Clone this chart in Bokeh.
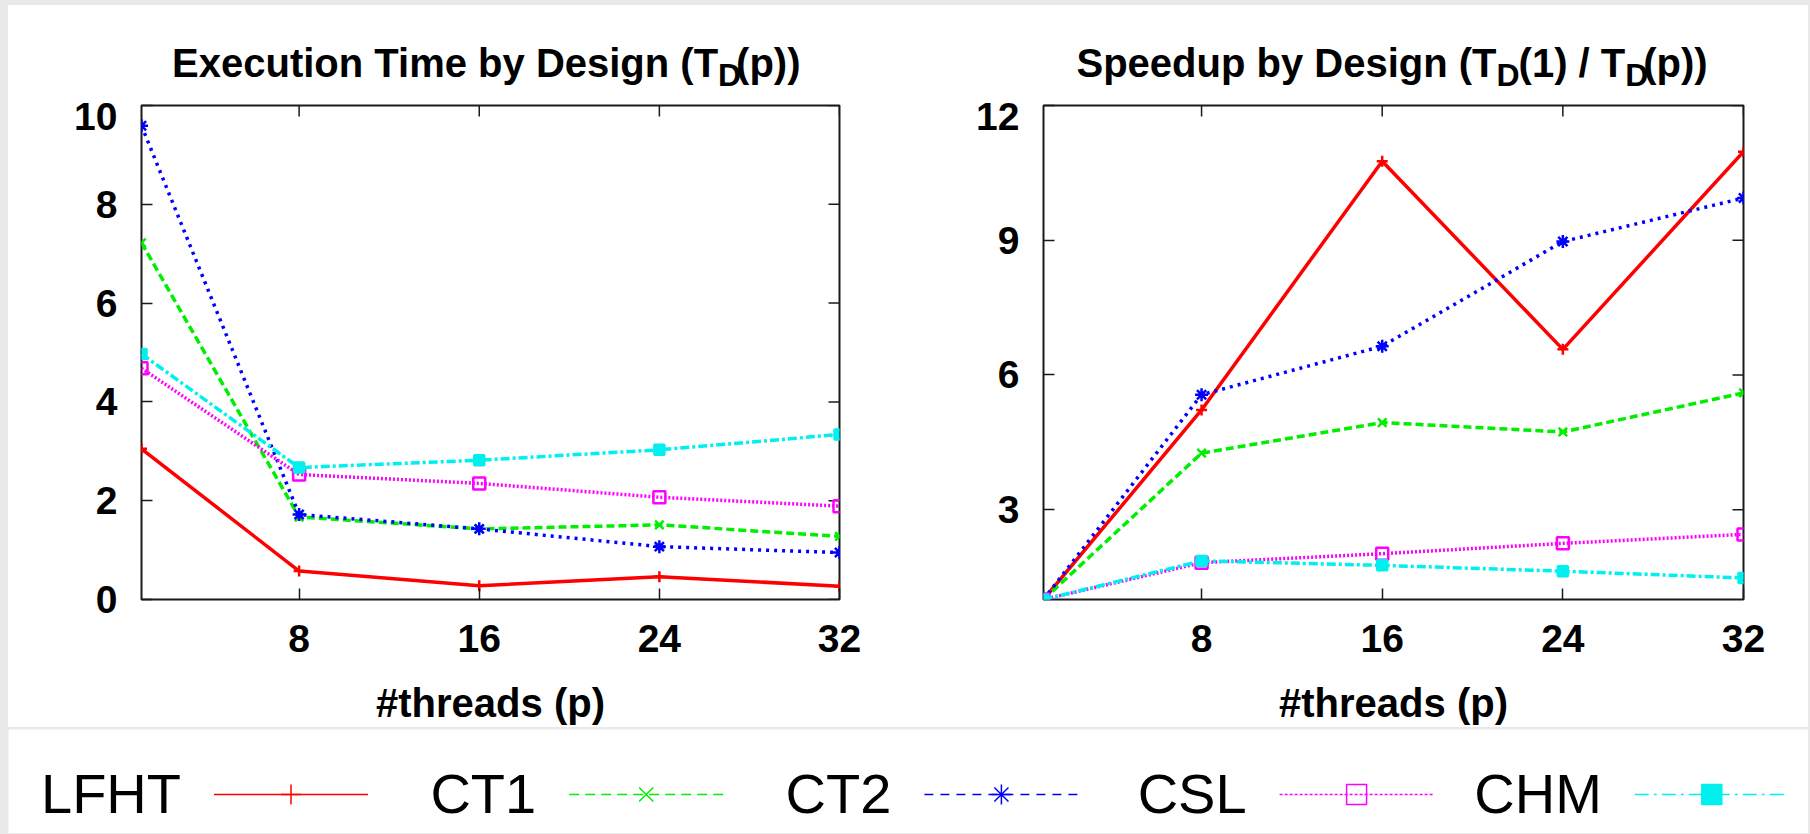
from bokeh.plotting import figure
from bokeh.models import Range1d, FixedTicker, GlobalInlineStyleSheet
from bokeh.layouts import column, row
from bokeh.embed import file_html
from bokeh.resources import INLINE
from bokeh.core.properties import value

# ---------------- data ----------------
threads = [1, 8, 16, 24, 32]
designs = ["LFHT", "CT1", "CT2", "CSL", "CHM"]

time_lfht = [3.05, 0.575, 0.28, 0.46, 0.27]
time_ct1 = [7.22, 1.67, 1.43, 1.51, 1.28]
time_ct2 = [9.59, 1.72, 1.43, 1.07, 0.95]
time_csl = [4.68, 2.53, 2.35, 2.07, 1.89]
time_chm = [4.97, 2.67, 2.82, 3.03, 3.34]

speedup_lfht = [1.0, 5.22, 10.76, 6.57, 10.97]
speedup_ct1 = [1.0, 4.26, 4.94, 4.73, 5.60]
speedup_ct2 = [1.0, 5.56, 6.64, 8.97, 9.94]
speedup_csl = [1.0, 1.82, 2.02, 2.25, 2.45]
speedup_chm = [1.0, 1.86, 1.76, 1.63, 1.48]

x_ticks = [8, 16, 24, 32]
time_ticks = [0, 2, 4, 6, 8, 10]
speedup_ticks = [3, 6, 9, 12]

x_label = "#threads (p)"
# title pieces: (text, is_subscript, alignment at its anchor)
title_left = [("Execution Time by Design (T", False, "right"),
              ("D", True, "left"),
              ("(p))", False, "left")]
title_right = [("Speedup by Design (T", False, "right"),
               ("D", True, "left"),
               ("(1) / T", False, "right"),
               ("D", True, "left"),
               ("(p))", False, "left")]

time_series = [time_lfht, time_ct1, time_ct2, time_csl, time_chm]
speedup_series = [speedup_lfht, speedup_ct1, speedup_ct2, speedup_csl, speedup_chm]

# ---------------- styles ----------------
FONT = "Liberation Sans"
colors = ["#ff0000", "#00ee00", "#0000ff", "#ff00ff", "#00f0f0"]
plot_dash = ["solid", "8 4", "3 5", "2 2", "9 3 3 3"]
legend_dash = ["solid", "10 6", "9 7", "3 2", "14 5 3 5"]
markers = ["cross", "x", "asterisk", "square", "square"]
marker_fill = [False, False, False, False, True]
plot_marker_size = [11, 12, 13, 12, 10]

TITLE_H = 97
PANEL_H = 625
FRAME_H = 494
TICK_LEN = 11


def blank_strip(w, h):
    s = figure(width=w, height=h, x_range=Range1d(0, w), y_range=Range1d(0, h),
               min_border=0, x_axis_type=None, y_axis_type=None,
               output_backend="svg", toolbar_location=None, title=None)
    s.grid.visible = False
    s.outline_line_color = None
    return s


def make_panel(y_start, y_end, yticks, width, border_l, border_r):
    frame_w = width - border_l - border_r
    p = figure(width=width, height=PANEL_H,
               x_range=Range1d(1, 32), y_range=Range1d(y_start, y_end),
               min_border_left=border_l, min_border_right=border_r,
               min_border_top=3, min_border_bottom=128,
               output_backend="svg", toolbar_location=None, title=None)
    p.grid.visible = False
    p.outline_line_color = "#1a1a1a"
    p.outline_line_width = 2
    p.xaxis.ticker = FixedTicker(ticks=x_ticks)
    p.yaxis.ticker = FixedTicker(ticks=yticks)
    for ax in p.axis:
        ax.axis_line_color = None
        ax.major_tick_in = TICK_LEN
        ax.major_tick_out = 0
        ax.minor_tick_line_color = None
        ax.major_tick_line_color = "#1a1a1a"
        ax.major_tick_line_width = 1.5
        ax.major_label_text_font = FONT
        ax.major_label_text_font_style = "bold"
        ax.major_label_text_font_size = "39px"
        ax.major_label_text_color = "#000000"
    p.xaxis.major_label_standoff = 25
    p.yaxis.major_label_standoff = 24
    p.xaxis.axis_label = x_label
    p.xaxis.axis_label_text_font = FONT
    p.xaxis.axis_label_text_font_style = "bold"
    p.xaxis.axis_label_text_font_size = "40px"
    p.xaxis.axis_label_text_color = "#000000"
    p.xaxis.axis_label_standoff = 26
    # mirrored inward ticks on the top and right edges
    yspan = y_end - y_start
    dy = TICK_LEN * yspan / FRAME_H
    dx = TICK_LEN * 31.0 / frame_w
    p.segment(x0=x_ticks, y0=[y_end] * len(x_ticks), x1=x_ticks, y1=[y_end - dy] * len(x_ticks),
              line_color="#1a1a1a", line_width=1.5)
    p.segment(x0=[32] * len(yticks), y0=yticks, x1=[32 - dx] * len(yticks), y1=yticks,
              line_color="#1a1a1a", line_width=1.5)
    return p


def draw_series(p, series):
    for i in range(len(designs)):
        p.line(threads, series[i], line_color=colors[i], line_width=3.5, line_dash=plot_dash[i])
        p.scatter(threads, series[i], marker=markers[i], size=plot_marker_size[i],
                  line_color=colors[i], line_width=2.5,
                  fill_color=colors[i] if marker_fill[i] else None)


def title_strip(w, pieces, anchors):
    s = blank_strip(w, TITLE_H)
    for (txt, sub, align), x in zip(pieces, anchors):
        s.text([x], [27.7 if sub else 39.8], text=[txt], text_font=value(FONT),
               text_font_style="bold", text_font_size=value("32px" if sub else "40px"),
               text_align=align, text_baseline="middle", text_color="#000000")
    return s


# ---------------- left panel ----------------
p1 = make_panel(0, 10, time_ticks, 897, 133, 66)
draw_series(p1, time_series)
t1 = title_strip(897, title_left, [741.0, 741.0, 764.1])

# ---------------- right panel ----------------
p2 = make_panel(1, 12, speedup_ticks, 903, 138, 65)
draw_series(p2, speedup_series)
t2 = title_strip(903, title_right, [584.4, 584.4, 750.5, 750.5, 773.6])

# ---------------- legend strip ----------------
LW, LH = 1800, 104
leg = blank_strip(LW, LH)
for i, name in enumerate(designs):
    x0 = 205.5 + i * 355.2
    x1 = x0 + 154
    xm = (x0 + x1) / 2
    leg.line([x0, x1], [39, 39], line_color=colors[i], line_width=1.5, line_dash=legend_dash[i])
    leg.scatter([xm], [39], marker=markers[i], size=20, line_color=colors[i], line_width=1.5,
                fill_color=colors[i] if marker_fill[i] else None)
    leg.text([x0 - 33], [40], text=[name], text_font=value(FONT), text_font_size=value("56px"),
             text_align="right", text_baseline="middle", text_color="#000000")

top = row(column(t1, p1, styles={"background-color": "white"}),
          column(t2, p2, styles={"background-color": "white"}),
          styles={"background-color": "white"})
layout = column(top, leg, spacing=2, margin=(5, 0, 0, 8),
                stylesheets=[GlobalInlineStyleSheet(css="html, body { background-color: #e9e9e9; }")])

open("out.html", "w").write(file_html(layout, INLINE))
